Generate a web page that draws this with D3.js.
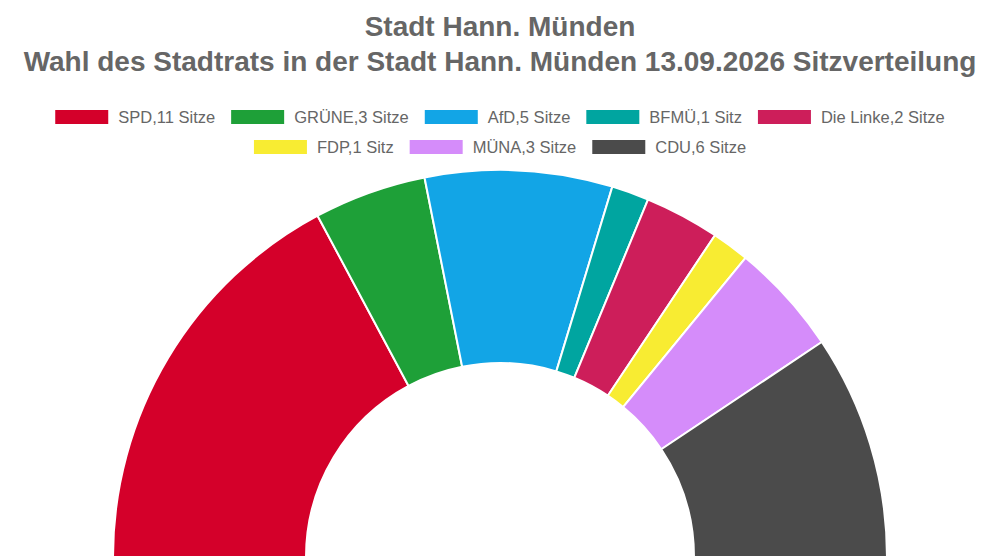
<!DOCTYPE html>
<html>
<head>
<meta charset="utf-8">
<script src="https://cdn.jsdelivr.net/npm/d3@7"></script>
<style>
body{margin:0;background:#fff;}
svg{display:block;font-family:"Liberation Sans",Arial,sans-serif;}
</style>
</head>
<body>
<svg id="chart"></svg>
<script>
var parties = ["SPD","GRÜNE","AfD","BFMÜ","Die Linke","FDP","MÜNA","CDU"];
var seats = [11,3,5,1,2,1,3,6];
var colors = ["#d4002a","#1ea038","#12a5e6","#00a5a0","#cd1e5a","#f8ec32","#d58cfa","#4b4b4b"];
var titleLines = ["Stadt Hann. Münden","Wahl des Stadtrats in der Stadt Hann. Münden 13.09.2026 Sitzverteilung"];

var width=1000;
var height=560;

var svg=d3.select("#chart")
.attr("width",width)
.attr("height",height);

// title
svg.selectAll("text.title")
.data(titleLines)
.enter()
.append("text")
.attr("class","title")
.attr("x",width/2)
.attr("y",function(d,i){return 36+i*35;})
.attr("text-anchor","middle")
.attr("font-size","28px")
.attr("font-weight","bold")
.attr("fill","#666")
.text(function(d){return d;});

// half donut
var data=parties.map(function(p,i){return {name:p,seats:seats[i],color:colors[i]};});

var pie=d3.pie()
.sort(null)
.value(function(d){return d.seats;})
.startAngle(-Math.PI/2)
.endAngle(Math.PI/2);

var arc=d3.arc()
.innerRadius(194)
.outerRadius(387);

var g=svg.append("g")
.attr("transform","translate(500,557)");

g.selectAll("path")
.data(pie(data))
.enter()
.append("path")
.attr("d",arc)
.attr("fill",function(d){return d.data.color;})
.attr("stroke","#fff")
.attr("stroke-width",2)
.attr("stroke-linejoin","round");

// legend
var swW=53, swH=14, txtGap=10, itemGap=16, maxRow=920;
var legend=svg.append("g");
var items=legend.selectAll("g.item")
.data(data)
.enter()
.append("g")
.attr("class","item");

items.append("rect")
.attr("width",swW)
.attr("height",swH)
.attr("y",-swH/2)
.attr("fill",function(d){return d.color;});

items.append("text")
.attr("x",swW+txtGap)
.attr("dy","0.35em")
.attr("font-size","16.5px")
.attr("fill","#666")
.text(function(d){return d.name+","+d.seats+(d.seats==1?" Sitz":" Sitze");});

// wrap into rows and center
var rows=[[]], rowW=[0];
items.each(function(d){
  var w=swW+txtGap+d3.select(this).select("text").node().getComputedTextLength();
  var r=rows.length-1;
  var add=(rows[r].length?itemGap:0)+w;
  if(rowW[r]+add>maxRow){rows.push([]);rowW.push(0);r++;add=w;}
  rows[r].push({node:this,w:w});
  rowW[r]+=add;
});
rows.forEach(function(row,ri){
  var x=(width-rowW[ri])/2;
  row.forEach(function(it){
    d3.select(it.node).attr("transform","translate("+x+","+(117+ri*30)+")");
    x+=it.w+itemGap;
  });
});
</script>
</body>
</html>
